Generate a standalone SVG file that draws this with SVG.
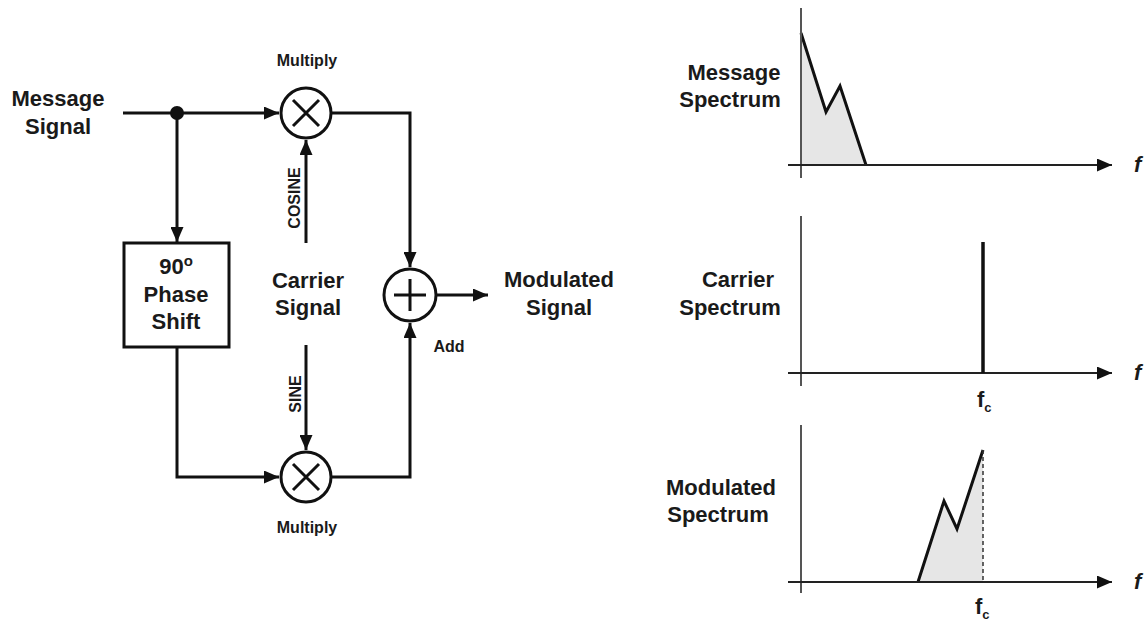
<svg xmlns="http://www.w3.org/2000/svg" width="1148" height="622" viewBox="0 0 1148 622">
<style>
text{font-family:"Liberation Sans",Arial,sans-serif;font-weight:bold;fill:#1a1a1a}
.big{font-size:22px}
.sm{font-size:16px}
.rot{font-size:16px}
.ln{stroke:#111;stroke-width:3;fill:none}
.ax{stroke:#222;stroke-width:2;fill:none}
.vax{stroke:#555;stroke-width:2;fill:none}
.fill{fill:#e6e6e6;stroke:none}
.sp{stroke:#111;stroke-width:3;fill:none;stroke-linejoin:miter}
</style>
<defs>
<marker id="ah" viewBox="0 0 15 13" refX="15" refY="6.5" markerWidth="15" markerHeight="13" markerUnits="userSpaceOnUse" orient="auto">
<path d="M0,0 L15,6.5 L0,13 Z" fill="#111"/>
</marker>
</defs>
<rect width="1148" height="622" fill="#fff"/>

<g id="connectors">
<line class="ln" x1="123" y1="113" x2="279" y2="113" marker-end="url(#ah)"/>
<line class="ln" x1="177" y1="113" x2="177" y2="242" marker-end="url(#ah)"/>
<polyline class="ln" points="177,347 177,477 279,477" marker-end="url(#ah)"/>
<line class="ln" x1="306" y1="243" x2="306" y2="140" marker-end="url(#ah)"/>
<line class="ln" x1="306" y1="345" x2="306" y2="450" marker-end="url(#ah)"/>
<polyline class="ln" points="332,113 410,113 410,267" marker-end="url(#ah)"/>
<polyline class="ln" points="332,477 410,477 410,323" marker-end="url(#ah)"/>
<line class="ln" x1="437" y1="295" x2="488" y2="295" marker-end="url(#ah)"/>
<circle cx="177" cy="113" r="7" fill="#111"/>
</g>

<g id="message-signal">
<text class="big" x="58" y="106" text-anchor="middle">Message</text>
<text class="big" x="58" y="134" text-anchor="middle">Signal</text>
</g>

<g id="multiply-top">
<circle class="ln" cx="306" cy="113" r="25" fill="#fff"/>
<path class="ln" d="M293,100 L319,126 M319,100 L293,126" stroke-width="2.5"/>
<text class="sm" x="307" y="66" text-anchor="middle">Multiply</text>
</g>

<g id="multiply-bottom">
<circle class="ln" cx="306" cy="477" r="25" fill="#fff"/>
<path class="ln" d="M293,464 L319,490 M319,464 L293,490" stroke-width="2.5"/>
<text class="sm" x="307" y="533" text-anchor="middle">Multiply</text>
</g>

<g id="phase-shift">
<rect class="ln" x="124" y="243" width="105" height="104" fill="#fff"/>
<text class="big" x="176" y="274" text-anchor="middle">90<tspan font-size="15" dy="-8">o</tspan></text>
<text class="big" x="176" y="302" text-anchor="middle">Phase</text>
<text class="big" x="176" y="329" text-anchor="middle">Shift</text>
</g>

<g id="carrier-signal">
<text class="big" x="308" y="288" text-anchor="middle">Carrier</text>
<text class="big" x="308" y="315" text-anchor="middle">Signal</text>
<text class="rot" transform="translate(300,198) rotate(-90)" text-anchor="middle">COSINE</text>
<text class="rot" transform="translate(301,394) rotate(-90)" text-anchor="middle">SINE</text>
</g>

<g id="add">
<circle class="ln" cx="410" cy="295" r="26" fill="#fff"/>
<path class="ln" d="M410,279 L410,311 M394,295 L426,295" stroke-width="2.5"/>
<text class="sm" x="449" y="352" text-anchor="middle">Add</text>
</g>

<g id="modulated-signal">
<text class="big" x="559" y="287" text-anchor="middle">Modulated</text>
<text class="big" x="559" y="315" text-anchor="middle">Signal</text>
</g>

<g id="message-spectrum">
<text class="big" x="734" y="80" text-anchor="middle">Message</text>
<text class="big" x="730" y="107" text-anchor="middle">Spectrum</text>
<polygon class="fill" points="801,33 826,112 840,86 866,165 801,165"/>
<polyline class="sp" points="801,33 826,112 840,86 866,165"/>
<line class="vax" x1="801" y1="8" x2="801" y2="178"/>
<line class="ax" x1="788" y1="165" x2="1112" y2="165" marker-end="url(#ah)"/>
<text class="big" x="1134" y="172" font-style="italic" font-size="19">f</text>
</g>

<g id="carrier-spectrum">
<text class="big" x="738" y="287" text-anchor="middle">Carrier</text>
<text class="big" x="730" y="315" text-anchor="middle">Spectrum</text>
<line class="vax" x1="801" y1="216" x2="801" y2="386"/>
<line class="ax" x1="788" y1="373" x2="1112" y2="373" marker-end="url(#ah)"/>
<line x1="983" y1="242" x2="983" y2="373" stroke="#111" stroke-width="3.5"/>
<text class="big" x="1134" y="380" font-style="italic" font-size="19">f</text>
<text class="big" x="977" y="407" font-size="19">f<tspan font-size="13" dy="5">c</tspan></text>
</g>

<g id="modulated-spectrum">
<text class="big" x="721" y="495" text-anchor="middle">Modulated</text>
<text class="big" x="718" y="522" text-anchor="middle">Spectrum</text>
<polygon class="fill" points="918,582 944,501 957,529 983,450 983,582"/>
<polyline class="sp" points="918,582 944,501 957,529 983,450"/>
<line x1="983" y1="450" x2="983" y2="582" stroke="#333" stroke-width="1.5" stroke-dasharray="4,3"/>
<line class="vax" x1="801" y1="425" x2="801" y2="593"/>
<line class="ax" x1="788" y1="582" x2="1112" y2="582" marker-end="url(#ah)"/>
<text class="big" x="1134" y="589" font-style="italic" font-size="19">f</text>
<text class="big" x="975" y="614" font-size="19">f<tspan font-size="13" dy="5">c</tspan></text>
</g>
</svg>
